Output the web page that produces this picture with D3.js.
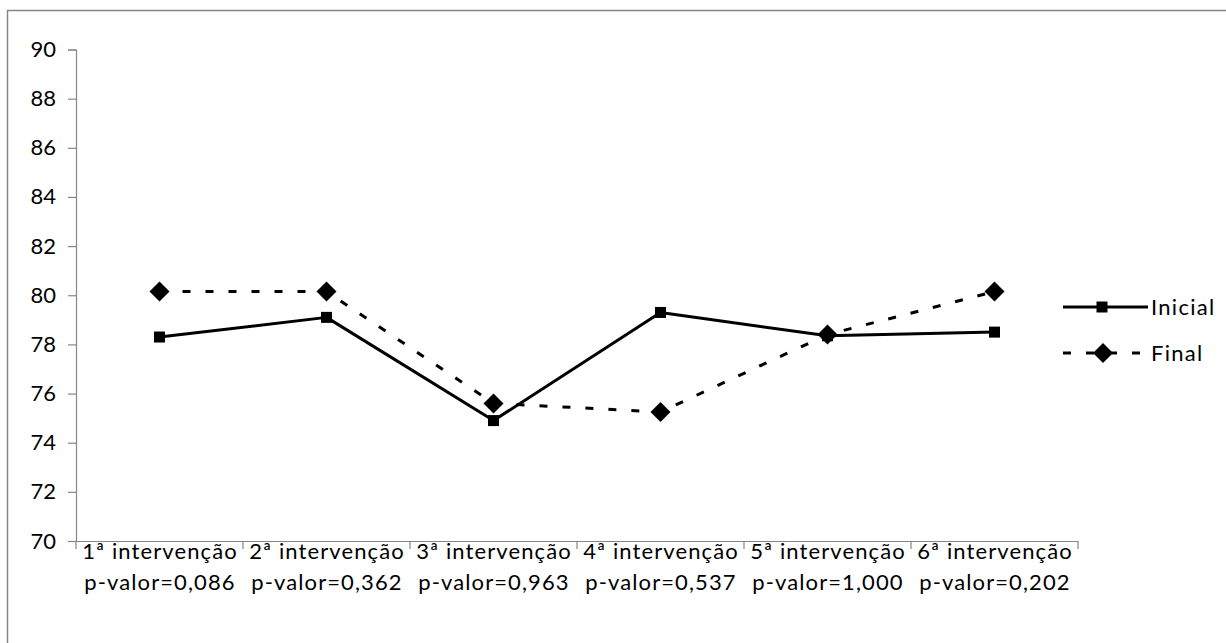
<!DOCTYPE html>
<html>
<head>
<meta charset="utf-8">
<script src="https://cdn.jsdelivr.net/npm/d3@7"></script>
<style>
  html, body { margin: 0; padding: 0; background: #fff; }
  svg { display: block; }
  text { font-family: Lato, "Open Sans", sans-serif; fill: #000; }
</style>
</head>
<body>
<svg id="chart" width="1226" height="643"></svg>
<script>
const categories = ["1ª intervenção", "2ª intervenção", "3ª intervenção", "4ª intervenção", "5ª intervenção", "6ª intervenção"];
const pValues = ["p-valor=0,086", "p-valor=0,362", "p-valor=0,963", "p-valor=0,537", "p-valor=1,000", "p-valor=0,202"];
const inicial = [78.3, 79.1, 74.9, 79.3, 78.35, 78.5];
const final = [80.15, 80.15, 75.6, 75.25, 78.4, 80.15];
const yTicks = [70, 72, 74, 76, 78, 80, 82, 84, 86, 88, 90];
const seriesNames = ["Inicial", "Final"];

(function () {
const svg = d3.select("#chart");
const W = 1226, H = 643;
const pL = 76, pR = 1078, pT = 49.5, pB = 541;
const FS = "22px";

// outer border
svg.append("rect").attr("x", 7.5).attr("y", 10.5).attr("width", W).attr("height", H)
  .attr("fill", "none").attr("stroke", "#868686").attr("stroke-width", 1.5);

const x = d3.scaleBand().domain(categories).range([pL, pR]).paddingInner(0).paddingOuter(0);
const y = d3.scaleLinear().domain([70, 90]).range([pB, pT]);
const cx = c => x(c) + x.bandwidth() / 2;

// y axis
const yAxis = svg.append("g").attr("transform", `translate(${pL},0)`)
  .call(d3.axisLeft(y).tickValues(yTicks).tickSize(8).tickPadding(12).tickFormat(d3.format("d")));
yAxis.select(".domain").attr("stroke", "#868686").attr("stroke-width", 1.2);
yAxis.selectAll(".tick line").attr("stroke", "#868686").attr("stroke-width", 1.2);
yAxis.selectAll(".tick text").style("font-size", FS).attr("fill", "#000").style("font-family", "Lato");

// x axis
const xAxis = svg.append("g").attr("transform", `translate(0,${pB})`)
  .call(d3.axisBottom(x).tickSize(0).tickFormat(""));
xAxis.select(".domain").attr("stroke", "#868686").attr("stroke-width", 1.2);
xAxis.selectAll(".tick").remove();
const bounds = categories.map(c => x(c)).concat([x(categories[categories.length - 1]) + x.bandwidth()]);
xAxis.selectAll("line.bt").data(bounds).enter().append("line")
  .attr("x1", d => d).attr("x2", d => d).attr("y1", 0).attr("y2", 8)
  .attr("stroke", "#868686").attr("stroke-width", 1.2);

// x labels
const lab = svg.append("g");
categories.forEach((c, i) => {
  const t = lab.append("text").attr("text-anchor", "middle").style("font-size", FS)
    .style("letter-spacing", "1.1px");
  t.append("tspan").attr("x", cx(c) + 0.5).attr("y", 559).text(c);
  t.append("tspan").attr("x", cx(c) + 0.5).attr("y", 590).text(pValues[i]);
});

// lines
const line = d3.line().x((d, i) => cx(categories[i])).y(d => y(d));

svg.append("path").datum(final).attr("d", line)
  .attr("fill", "none").attr("stroke", "#000").attr("stroke-width", 3).attr("stroke-dasharray", "8,15");
svg.append("path").datum(inicial).attr("d", line)
  .attr("fill", "none").attr("stroke", "#000").attr("stroke-width", 3).attr("stroke-linejoin", "round");

const sq = 11, dm = 10;
svg.selectAll("rect.mk").data(inicial).enter().append("rect")
  .attr("x", (d, i) => cx(categories[i]) - sq / 2).attr("y", d => y(d) - sq / 2)
  .attr("width", sq).attr("height", sq).attr("fill", "#000");
const diamond = (px, py) => `M${px},${py - dm}L${px + dm},${py}L${px},${py + dm}L${px - dm},${py}Z`;
svg.selectAll("path.dm").data(final).enter().append("path")
  .attr("d", (d, i) => diamond(cx(categories[i]), y(d))).attr("fill", "#000");

// legend
const lg = svg.append("g");
const ly = [307, 353];
lg.append("line").attr("x1", 1063).attr("x2", 1148).attr("y1", ly[0]).attr("y2", ly[0])
  .attr("stroke", "#000").attr("stroke-width", 3);
lg.append("rect").attr("x", 1102 - sq / 2).attr("y", ly[0] - sq / 2).attr("width", sq).attr("height", sq).attr("fill", "#000");
lg.append("line").attr("x1", 1063).attr("x2", 1148).attr("y1", ly[1]).attr("y2", ly[1])
  .attr("stroke", "#000").attr("stroke-width", 3).attr("stroke-dasharray", "8,15");
lg.append("path").attr("d", diamond(1103, ly[1])).attr("fill", "#000");
lg.append("text").attr("x", 1151).attr("y", ly[0] + 8).style("font-size", FS).style("letter-spacing", "1.3px").text(seriesNames[0]);
lg.append("text").attr("x", 1151).attr("y", ly[1] + 8).style("font-size", FS).style("letter-spacing", "1.3px").text(seriesNames[1]);
})();
</script>
</body>
</html>
